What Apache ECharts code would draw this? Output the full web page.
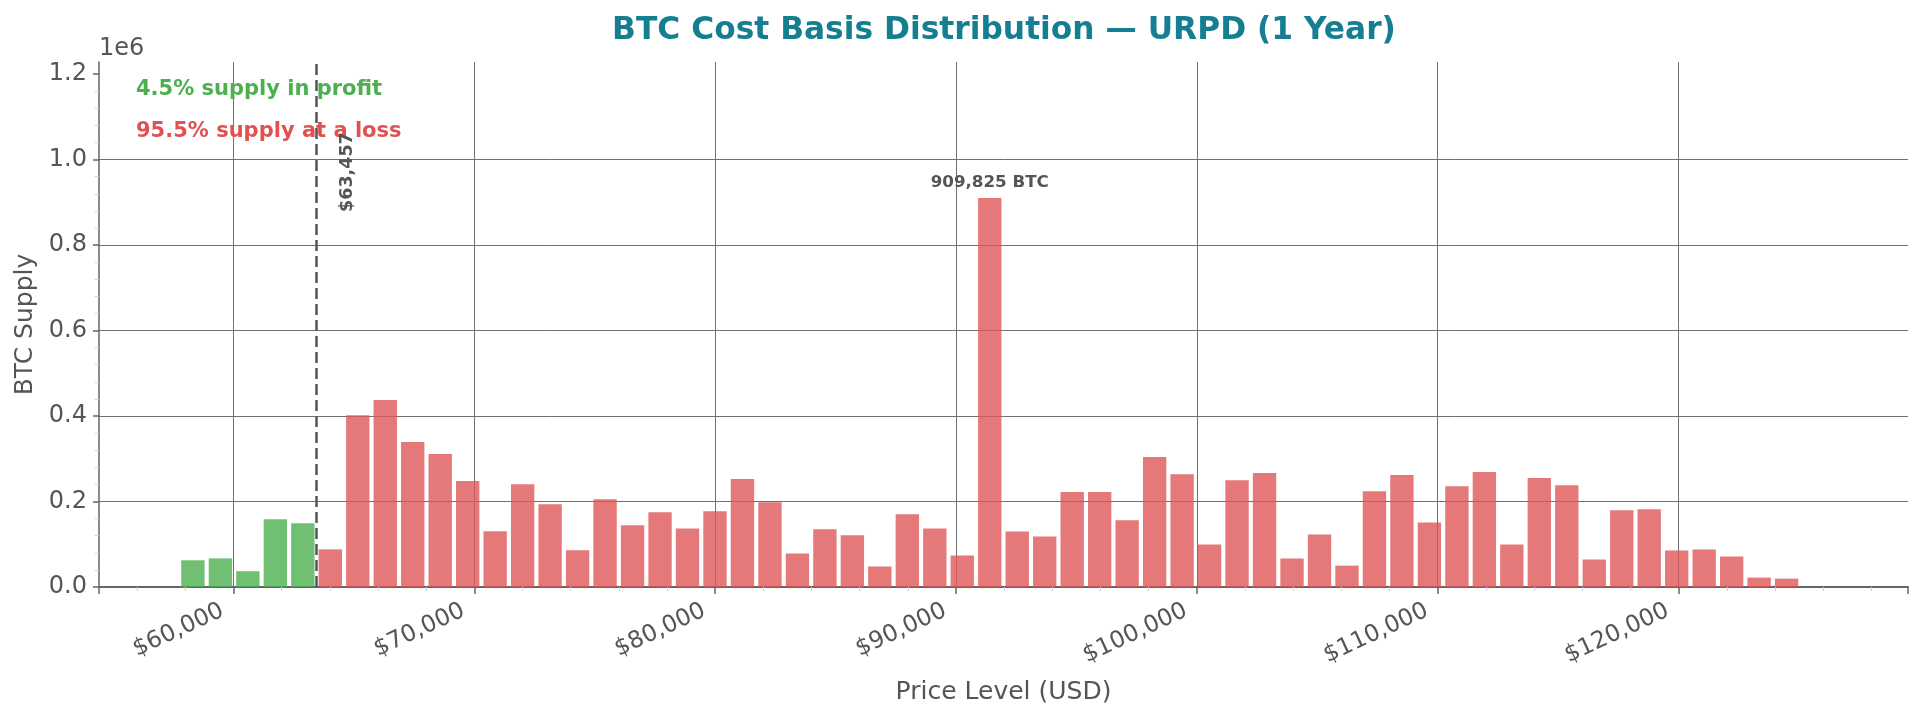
<!DOCTYPE html>
<html>
<head>
<meta charset="utf-8">
<title>BTC Cost Basis Distribution — URPD (1 Year)</title>
<script src="https://cdn.jsdelivr.net/npm/echarts@6/dist/echarts.min.js"></script>
<style>
html, body { margin: 0; padding: 0; background: #fff; }
#chart { width: 1923px; height: 719px; }
</style>
</head>
<body>
<div id="chart"></div>
<script>
// bin centres of the URPD histogram (USD)
var priceLevels = [
	58318, 59459, 60600, 61740, 62881, 64022, 65163, 66304, 67444, 68585,
	69726, 70867, 72008, 73148, 74289, 75430, 76571, 77712, 78852, 79993,
	81134, 82275, 83416, 84556, 85697, 86838, 87979, 89120, 90260, 91401,
	92542, 93683, 94824, 95964, 97105, 98246, 99387, 100528, 101668, 102809,
	103950, 105091, 106232, 107372, 108513, 109654, 110795, 111936, 113076, 114217,
	115358, 116499, 117640, 118780, 119921, 121062, 122203, 123344, 124484
];
// BTC held per bin
var btcSupply = [
	62500, 67000, 37000, 158600, 149000, 88000, 402000, 437500, 339000, 311000,
	247700, 130500, 240600, 193800, 86000, 205500, 144300, 175000, 137000, 177000,
	252500, 198000, 78400, 135000, 121000, 48000, 170000, 137000, 73700, 909825,
	130000, 118000, 222000, 222000, 156000, 304000, 264000, 99600, 250000, 266700,
	66700, 123000, 50000, 224000, 262000, 151000, 236000, 269000, 99600, 255000,
	238000, 64300, 179600, 182000, 85500, 87800, 71400, 22000, 19600
];
// tick positions
var xTicks = [60000, 70000, 80000, 90000, 100000, 110000, 120000];
var yTicks = [0, 200000, 400000, 600000, 800000, 1000000, 1200000];
var currentPrice = 63457;
var profitText = '4.5% supply in profit';
var lossText = '95.5% supply at a loss';

var GREEN = '#4CAF50';
var RED = '#DF5858';
var GREY = '#555555';
var FONT = '"DejaVu Sans", sans-serif';

var binWidth = priceLevels[1] - priceLevels[0];
var maxSupply = Math.max.apply(null, btcSupply);
var barData = [];
for (var i = 0; i < priceLevels.length; i++) {
	barData.push([priceLevels[i], btcSupply[i]]);
}
// matplotlib-like 5% margins around the bars
var xMin = priceLevels[0] - binWidth * 0.425 - 3414;
var xMax = priceLevels[priceLevels.length - 1] + binWidth * 1.425 + 3414;

function fmtUsd(v) {
	return '$' + Math.round(v).toString().replace(/\B(?=(\d{3})+(?!\d))/g, ',');
}

function renderBar(params, api) {
	var c = api.value(0), v = api.value(1);
	var half = binWidth * 0.85 / 2;
	var p0 = api.coord([c - half, v]);
	var p1 = api.coord([c + half, 0]);
	var rect = {
		type : 'rect',
		shape : { x : p0[0], y : p0[1], width : p1[0] - p0[0], height : p1[1] - p0[1] },
		style : { fill : c < currentPrice ? GREEN : RED, opacity : 0.8 }
	};
	if (v !== maxSupply) return rect;
	return {
		type : 'group',
		children : [ rect, {
			type : 'text',
			style : {
				text : v.toString().replace(/\B(?=(\d{3})+(?!\d))/g, ',') + ' BTC',
				x : (p0[0] + p1[0]) / 2,
				y : p0[1] - 7,
				textAlign : 'center',
				textVerticalAlign : 'bottom',
				font : 'bold 16.7px ' + FONT,
				fill : GREY
			}
		} ]
	};
}

var myChart = echarts.init(document.getElementById('chart'), null, { renderer : 'canvas' });
var option = {
	animation : false,
	backgroundColor : '#fff',
	title : {
		text : 'BTC Cost Basis Distribution — URPD (1 Year)',
		left : 999,
		textAlign : 'center',
		top : 10,
		textStyle : { fontFamily : FONT, fontSize : 31.3, fontWeight : 'bold', color : '#157F91' }
	},
	grid : { left : 99, right : 15, top : 62, bottom : 132, outerBoundsMode : 'none' },
	xAxis : {
		type : 'value',
		min : xMin,
		max : xMax,
		splitNumber : 7,
		name : 'Price Level (USD)',
		nameLocation : 'middle',
		nameGap : 93,
		nameMoveOverlap : false,
		nameTextStyle : { fontFamily : FONT, fontSize : 25, color : GREY },
		axisLine : { show : true, onZero : false, lineStyle : { color : '#666', width : 2 } },
		axisTick : { show : true, length : 7, lineStyle : { color : '#666', width : 1.5 } },
		minorTick : { show : true, splitNumber : 5, length : 4, lineStyle : { color : '#c9cde3', width : 1 } },
		splitLine : { show : true, showMinLine : false, showMaxLine : false, lineStyle : { color : '#707070', width : 1 } },
		axisLabel : {
			rotate : 25,
			margin : 17.5,
			padding : [ 0, 12, 0, 0 ],
			fontFamily : FONT,
			fontSize : 23.5,
			color : GREY,
			customValues : xTicks,
			formatter : function(v) {
				return fmtUsd(v);
			}
		}
	},
	yAxis : {
		type : 'value',
		min : 0,
		max : maxSupply * 1.35,
		interval : 200000,
		name : 'BTC Supply',
		nameLocation : 'middle',
		nameGap : 61,
		nameMoveOverlap : false,
		nameTextStyle : { fontFamily : FONT, fontSize : 25, color : GREY },
		axisLine : { show : true, lineStyle : { color : '#666', width : 1.5 } },
		axisTick : { show : true, customValues : yTicks, length : 6, lineStyle : { color : '#666', width : 1.5 } },
		minorTick : { show : true, splitNumber : 5, length : 4, lineStyle : { color : '#c9cde3', width : 1 } },
		splitLine : { show : true, showMinLine : false, showMaxLine : false, lineStyle : { color : '#707070', width : 1 } },
		axisLabel : {
			margin : 12,
			fontFamily : FONT,
			fontSize : 24,
			color : GREY,
			customValues : yTicks,
			formatter : function(v) {
				return (v / 1e6).toFixed(1);
			}
		}
	},
	series : [ {
		name : 'URPD',
		type : 'custom',
		renderItem : renderBar,
		encode : { x : 0, y : 1 },
		data : barData,
		markLine : {
			silent : true,
			symbol : [ 'none', 'none' ],
			label : { show : false },
			lineStyle : { color : GREY, width : 2.5, type : [ 11, 5 ], opacity : 1 },
			data : [ { xAxis : currentPrice } ]
		}
	} ]
};
myChart.setOption(option);

// texts placed in axes/data space after layout
var labelPos = myChart.convertToPixel({ xAxisIndex : 0, yAxisIndex : 0 }, [ currentPrice * 1.02, 1064000 ]);
myChart.setOption({
	graphic : [ {
		type : 'text',
		left : 99,
		top : 37,
		style : { text : '1e6', font : '24px ' + FONT, fill : GREY }
	}, {
		type : 'text',
		x : 136,
		y : 90,
		style : { text : profitText, font : 'bold 21px ' + FONT, fill : GREEN, textVerticalAlign : 'middle' }
	}, {
		type : 'text',
		x : 136,
		y : 132,
		style : { text : lossText, font : 'bold 21px ' + FONT, fill : '#E05252', textVerticalAlign : 'middle' }
	}, {
		type : 'text',
		x : labelPos[0],
		y : labelPos[1],
		rotation : Math.PI / 2,
		style : {
			text : fmtUsd(currentPrice),
			font : 'bold 17.5px ' + FONT,
			fill : GREY,
			textAlign : 'right',
			textVerticalAlign : 'middle'
		}
	} ]
});
</script>
</body>
</html>
